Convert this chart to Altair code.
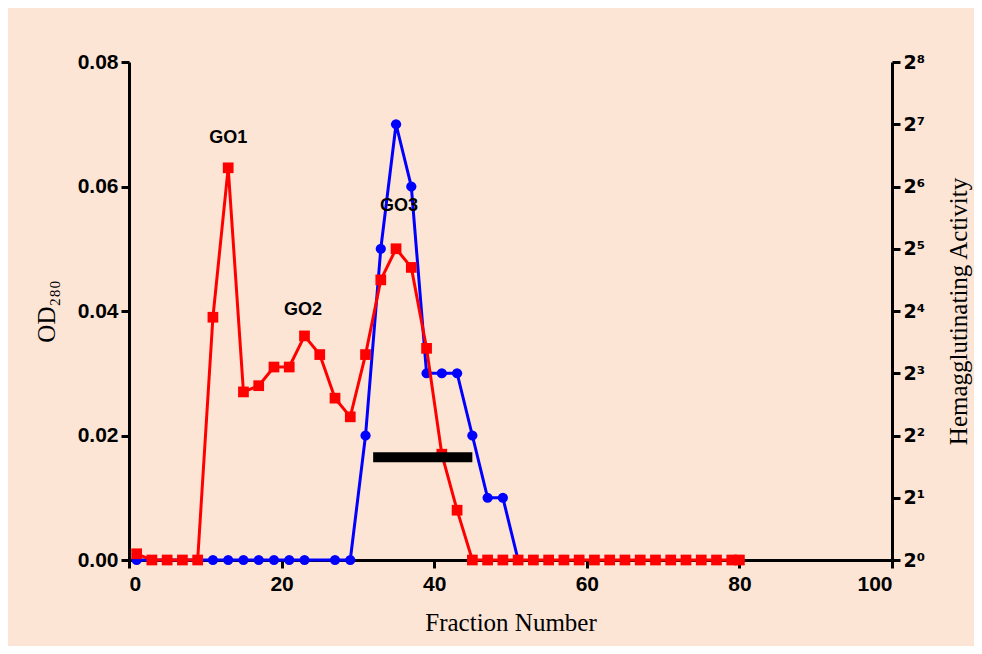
import altair as alt
import pandas as pd

# ---- data ----
red_frac = [1, 3, 5, 7, 9, 11, 13, 15, 17, 19, 21, 23, 25, 27, 29, 31, 33, 35, 37, 39, 41, 43,
            45, 47, 49, 51, 53, 55, 57, 59, 61, 63, 65, 67, 69, 71, 73, 75, 77, 79, 80]
red_od = [0.001, 0, 0, 0, 0, 0.039, 0.063, 0.027, 0.028, 0.031, 0.031, 0.036, 0.033, 0.026,
          0.023, 0.033, 0.045, 0.050, 0.047, 0.034, 0.017, 0.008,
          0, 0, 0, 0, 0, 0, 0, 0, 0, 0, 0, 0, 0, 0, 0, 0, 0, 0, 0]

blue_frac = [1, 3, 5, 7, 9, 11, 13, 15, 17, 19, 21, 23, 27, 29, 31, 33, 35, 37, 39, 41, 43,
             45, 47, 49, 51]
blue_exp = [0, 0, 0, 0, 0, 0, 0, 0, 0, 0, 0, 0, 0, 0, 2, 5, 7, 6, 3, 3, 3, 2, 1, 1, 0]

peak_labels = ["GO1", "GO2", "GO3"]
peak_frac = [13, 22.8, 35.4]
peak_od = [0.0678, 0.0402, 0.0569]

bar_start = [32]
bar_end = [45]
bar_od = [0.0165]

x_ticks = [0, 20, 40, 60, 80, 100]
od_ticks = [0, 0.02, 0.04, 0.06, 0.08]
ha_ticks = [0, 1, 2, 3, 4, 5, 6, 7, 8]

red_df = pd.DataFrame({"frac": red_frac, "od": red_od})
blue_df = pd.DataFrame({"frac": blue_frac, "ha": blue_exp})
lab_df = pd.DataFrame({"frac": peak_frac, "od": peak_od, "label": peak_labels})
bar_df = pd.DataFrame({"frac": bar_start, "frac2": bar_end, "od": bar_od})

BG = "#FDE5D6"
SANS = "Liberation Sans"
SERIF = "Liberation Serif"
RED = "#FF0000"
BLUE = "#0000FF"

W, H = 763, 498

common_axis = dict(
    domainColor="black", domainWidth=3, tickColor="black", tickWidth=3, tickSize=8,
    labelFontWeight="bold", labelColor="black",
    titleFont=SERIF, titleFontSize=25, titleFontWeight="normal", titleColor="black",
    grid=False,
)

x_axis = alt.Axis(values=x_ticks, labelPadding=5, labelFont=SANS, labelFontSize=21,
                  titleX=W / 2, titleY=62, titleBaseline="middle", **common_axis)
x_scale = alt.Scale(domain=[0, 100], nice=False, zero=False)
X = lambda field: alt.X(f"{field}:Q", scale=x_scale, axis=x_axis, title="Fraction Number")

left_axis = alt.Axis(values=od_ticks, format=".2f", orient="left", labelPadding=3,
                     labelFont=SANS, labelFontSize=21,
                     titleX=-83, titleY=H / 2, titleBaseline="middle", titleAngle=270,
                     **common_axis)
od_scale = alt.Scale(domain=[0, 0.08], nice=False, zero=False)
YL = lambda field: alt.Y(f"{field}:Q", scale=od_scale, axis=left_axis, title="OD₂₈₀")

right_axis = alt.Axis(values=ha_ticks, orient="right", labelPadding=3,
                      labelFont="DejaVu Sans", labelFontSize=19,
                      labelExpr="'2' + ['⁰','¹','²','³','⁴','⁵','⁶','⁷','⁸'][datum.value]",
                      titleX=66, titleY=H / 2, titleBaseline="middle", titleAngle=270,
                      **common_axis)
ha_scale = alt.Scale(domain=[0, 8], nice=False, zero=False)

blue_line = alt.Chart(blue_df).mark_line(color=BLUE, strokeWidth=3).encode(
    x=X("frac"),
    y=alt.Y("ha:Q", scale=ha_scale, axis=right_axis, title="Hemagglutinating Activity"),
)
blue_pts = alt.Chart(blue_df).mark_point(shape="circle", filled=True, color=BLUE, size=105,
                                         opacity=1).encode(
    x=X("frac"),
    y=alt.Y("ha:Q", scale=ha_scale, axis=right_axis, title="Hemagglutinating Activity"),
)
right_layer = alt.layer(blue_line, blue_pts)

red_line = alt.Chart(red_df).mark_line(color=RED, strokeWidth=3).encode(
    x=X("frac"), y=YL("od"))
red_pts = alt.Chart(red_df).mark_point(shape="square", filled=True, color=RED, size=115,
                                       opacity=1).encode(
    x=X("frac"), y=YL("od"))
bar = alt.Chart(bar_df).mark_rule(color="black", strokeWidth=10, strokeCap="butt").encode(
    x=X("frac"), x2="frac2:Q", y=YL("od"))
labels = alt.Chart(lab_df).mark_text(font=SANS, fontWeight="bold", fontSize=18,
                                     color="black", baseline="middle", align="center").encode(
    x=X("frac"), y=YL("od"), text="label:N")
left_layer = alt.layer(red_line, red_pts, bar, labels)

chart = alt.layer(right_layer, left_layer).resolve_scale(y="independent").properties(
    width=W, height=H,
    autosize=alt.AutoSizeParams(type="none"),
    padding={"left": 121, "top": 54, "right": 82, "bottom": 86},
    background=BG,
).configure_view(stroke=None)

chart.save("out.html", embed_options={"renderer": "svg", "actions": False})
